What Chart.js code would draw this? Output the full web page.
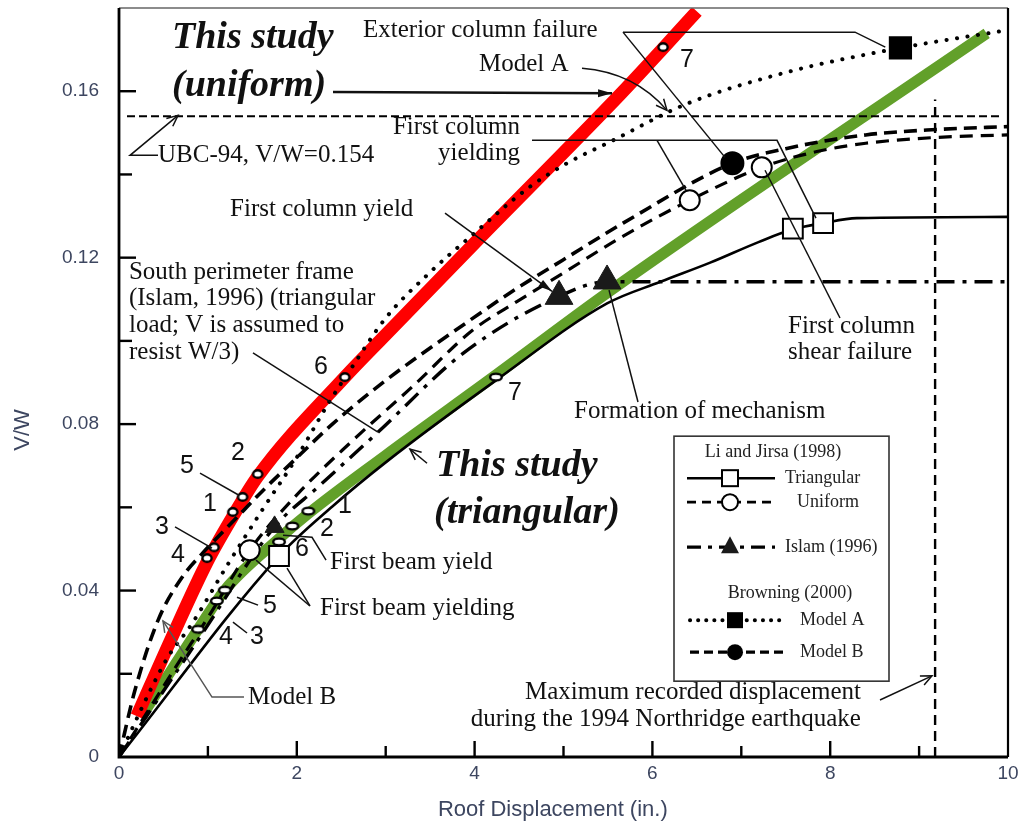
<!DOCTYPE html>
<html>
<head>
<meta charset="utf-8">
<script src="https://cdn.jsdelivr.net/npm/chart.js@4/dist/chart.umd.min.js"></script>
<style>
  html, body { margin: 0; padding: 0; background: #fff; }
  #c { display: block; }
</style>
</head>
<body>
<canvas id="c" width="1023" height="825"></canvas>
<script>
// ---------------------------------------------------------------
// Pushover curves: roof displacement (in.) against base shear V/W
// ---------------------------------------------------------------

// This study, uniform load pattern
const studyUniformX = [0.20, 0.60, 0.99, 1.28, 1.56, 2.54, 3.00, 4.00, 5.65, 6.12, 6.50];
const studyUniformY = [0.0098, 0.0290, 0.0468, 0.0578, 0.0674, 0.0913, 0.1015, 0.1235, 0.1595, 0.1703, 0.1792];
// analysis steps marked along the uniform curve
const studyUniformStepX = [0.99, 1.07, 1.28, 1.39, 1.56, 2.54, 6.12];
const studyUniformStepY = [0.0478, 0.0504, 0.0589, 0.0625, 0.0680, 0.0913, 0.1706];

// This study, triangular load pattern
const studyTriX = [0.25, 0.89, 1.19, 1.80, 2.13, 3.00, 4.24, 5.49, 9.76];
const studyTriY = [0.0096, 0.0307, 0.0401, 0.0525, 0.0585, 0.0725, 0.0918, 0.1115, 0.1739];
const studyTriStepX = [0.89, 1.10, 1.19, 1.80, 1.95, 2.13, 4.24];
const studyTriStepY = [0.0307, 0.0375, 0.0401, 0.0517, 0.0555, 0.0591, 0.0913];

// Li and Jirsa (1998), triangular
const liTriX = [0, 1.80, 2.40, 3.00, 4.24, 5.49, 6.09, 6.65, 7.20, 7.58, 7.92, 8.30, 10.0];
const liTriY = [0, 0.0483, 0.0602, 0.0708, 0.0905, 0.1090, 0.1142, 0.1188, 0.1238, 0.1268, 0.1283, 0.1295, 0.1298];
const liTriEventX = [1.80, 7.58, 7.92];
const liTriEventY = [0.0483, 0.1270, 0.1283];

// Li and Jirsa (1998), uniform
const liUniX = [0, 0.65, 1.00, 1.47, 2.00, 2.60, 3.30, 3.98, 4.48, 4.99, 5.64, 6.42, 7.23, 7.85, 8.40, 9.20, 10.0];
const liUniY = [0, 0.0220, 0.0335, 0.0497, 0.0630, 0.0755, 0.0890, 0.1026, 0.1095, 0.1162, 0.1248, 0.1338, 0.1417, 0.1455, 0.1475, 0.1489, 0.1495];
const liUniEventX = [1.47, 6.42, 7.23];
const liUniEventY = [0.0497, 0.1338, 0.1417];

// Islam (1996), south perimeter frame
const islamX = [0, 0.90, 1.75, 2.24, 2.91, 3.87, 4.95, 5.49, 5.90, 10.0];
const islamY = [0, 0.0285, 0.0553, 0.0649, 0.0780, 0.0970, 0.1107, 0.1142, 0.1142, 0.1142];
const islamEventX = [1.75, 4.95, 5.49];
const islamEventY = [0.0553, 0.1107, 0.1144];

// Browning (2000), Model A
const modelAX = [0, 0.37, 0.55, 0.82, 1.23, 1.60, 2.00, 2.37, 2.60, 3.00, 3.50, 3.95, 4.62, 5.04, 5.52, 6.39, 7.50, 8.79, 10.0];
const modelAY = [0, 0.0168, 0.0240, 0.0320, 0.0465, 0.0590, 0.0720, 0.0855, 0.0930, 0.1055, 0.1165, 0.1250, 0.1370, 0.1427, 0.1478, 0.1570, 0.1645, 0.1704, 0.1747];
const modelAEventX = [8.79];
const modelAEventY = [0.1704];

// Browning (2000), Model B
const modelBX = [0, 0.18, 0.44, 0.71, 0.94, 1.30, 1.64, 1.98, 2.40, 3.00, 3.95, 4.43, 4.99, 5.67, 6.90, 7.50, 8.40, 9.20, 10.0];
const modelBY = [0, 0.0161, 0.0329, 0.0432, 0.0490, 0.0570, 0.0645, 0.0715, 0.0800, 0.0905, 0.1050, 0.1120, 0.1194, 0.1283, 0.1427, 0.1462, 0.1495, 0.1508, 0.1515];
const modelBEventX = [6.90];
const modelBEventY = [0.1427];

// UBC-94 design base shear
const ubcX = [0.09, 9.94];
const ubcY = [0.154, 0.154];

// Maximum recorded roof displacement, 1994 Northridge earthquake
const northridgeX = [9.18, 9.18];
const northridgeY = [0, 0.158];

// Axis ticks
const xTickValues = [0, 2, 4, 6, 8, 10];
const yTickValues = [0, 0.04, 0.08, 0.12, 0.16];

// ---------------------------------------------------------------
const SERIF = '"Liberation Serif", "Times New Roman", serif';
const SANS = '"Liberation Sans", Arial, sans-serif';
const TICK_COLOR = '#3d4660';
const INK = '#111111';

const pts = (xs, ys) => xs.map((x, i) => ({ x: x, y: ys[i] }));

function ellipseMarker(rx, ry, lw) {
  const c = document.createElement('canvas');
  c.width = Math.ceil(2 * rx + lw + 2);
  c.height = Math.ceil(2 * ry + lw + 2);
  const g = c.getContext('2d');
  g.beginPath();
  g.ellipse(c.width / 2, c.height / 2, rx, ry, 0, 0, Math.PI * 2);
  g.fillStyle = '#ffffff';
  g.fill();
  g.lineWidth = lw;
  g.strokeStyle = '#000000';
  g.stroke();
  return c;
}
const stepMarkRed = ellipseMarker(4.6, 3.8, 2.4);
const stepMarkGreen = ellipseMarker(5.8, 3.4, 2.4);

function curve(label, xs, ys, color, width, dash, order, extra) {
  return Object.assign({
    label: label,
    data: pts(xs, ys),
    showLine: true,
    borderColor: color,
    borderWidth: width,
    borderDash: dash,
    pointRadius: 0,
    fill: false,
    cubicInterpolationMode: 'monotone',
    order: order
  }, extra || {});
}

function markers(label, xs, ys, style, radius, fillColor, order, extra) {
  return Object.assign({
    label: label,
    data: pts(xs, ys),
    showLine: false,
    pointStyle: style,
    pointRadius: radius,
    pointBackgroundColor: fillColor,
    pointBorderColor: '#000000',
    pointBorderWidth: 2,
    order: order
  }, extra || {});
}

const datasets = [
  markers('This study (uniform) steps', studyUniformStepX, studyUniformStepY, stepMarkRed, 5, '#fff', 0),
  markers('This study (triangular) steps', studyTriStepX, studyTriStepY, stepMarkGreen, 5, '#fff', 0),
  markers('Li and Jirsa triangular events', liTriEventX, liTriEventY, 'rect', 14, '#ffffff', 1),
  markers('Li and Jirsa uniform events', liUniEventX, liUniEventY, 'circle', 10, '#ffffff', 1),
  markers('Islam events', islamEventX, islamEventY, 'triangle', [11, 16, 16], '#1a1a1a', 1, { pointBorderColor: '#1a1a1a', pointBorderWidth: 1 }),
  markers('Model A event', modelAEventX, modelAEventY, 'rect', 15, '#000000', 1),
  markers('Model B event', modelBEventX, modelBEventY, 'circle', 11, '#000000', 1),

  curve('Li and Jirsa (1998) triangular', liTriX, liTriY, '#000000', 2.6, [], 3),
  curve('Li and Jirsa (1998) uniform', liUniX, liUniY, '#000000', 3.2, [13, 8], 3),
  curve('Browning (2000) Model B', modelBX, modelBY, '#000000', 3.6, [13, 7], 3),
  curve('Islam (1996)', islamX, islamY, '#000000', 3.4, [18, 8, 4, 8], 3),
  curve('Browning (2000) Model A', modelAX, modelAY, '#000000', 4, [0.1, 10.5], 3, { borderCapStyle: 'round' }),
  curve('UBC-94', ubcX, ubcY, '#000000', 2, [8, 4], 4, { cubicInterpolationMode: 'default', tension: 0 }),
  curve('Max. recorded displacement', northridgeX, northridgeY, '#000000', 2.4, [10, 6], 4, { cubicInterpolationMode: 'default', tension: 0 }),

  curve('This study (uniform)', studyUniformX, studyUniformY, '#ff0000', 13, [], 10, { borderCapStyle: 'butt' }),
  curve('This study (triangular)', studyTriX, studyTriY, '#62a02a', 11, [], 11, { borderCapStyle: 'butt' })
];

// ---------------------------------------------------------------
// Callouts (placed in data units)
const F = '25px ' + SERIF;
const FBI = 'italic bold 38px ' + SERIF;
const FN = '25px ' + SANS;
const callouts = [
  { t: 'text', x: 0.596, y: 0.1727, s: 'This study', f: FBI },
  { t: 'text', x: 0.596, y: 0.1612, s: '(uniform)', f: FBI },
  { t: 'path', p: [[2.407, 0.1598], [5.546, 0.1595]], head: 'fill', w: 2.4 },

  { t: 'text', x: 2.745, y: 0.1747, s: 'Exterior column failure' },
  { t: 'path', p: [[5.669, 0.1742], [8.279, 0.1742], [8.62, 0.1706]] },
  { t: 'path', p: [[5.669, 0.1742], [6.817, 0.1441]] },

  { t: 'text', x: 4.049, y: 0.1665, s: 'Model A' },
  { t: 'quad', p: [[5.208, 0.1655], [5.80, 0.1645], [6.164, 0.1554]], head: 'open' },

  { t: 'text', x: 4.511, y: 0.1514, s: 'First column', a: 'right' },
  { t: 'text', x: 4.511, y: 0.1451, s: 'yielding', a: 'right' },
  { t: 'path', p: [[4.646, 0.1482], [7.402, 0.1482], [7.84, 0.1295]] },
  { t: 'path', p: [[6.052, 0.1482], [6.378, 0.1362]] },

  { t: 'text', x: 7.525, y: 0.1035, s: 'First column' },
  { t: 'text', x: 7.525, y: 0.0973, s: 'shear failure' },
  { t: 'path', p: [[7.267, 0.1410], [8.110, 0.1055]] },

  { t: 'text', x: 0.439, y: 0.1446, s: 'UBC-94, V/W=0.154' },
  { t: 'path', p: [[0.439, 0.1446], [0.124, 0.1446], [0.664, 0.1542]], head: 'open' },

  { t: 'text', x: 1.249, y: 0.1317, s: 'First column yield' },
  { t: 'path', p: [[3.667, 0.1307], [4.871, 0.1119]], head: 'fill' },

  { t: 'text', x: 0.112, y: 0.1165, s: 'South perimeter frame' },
  { t: 'text', x: 0.112, y: 0.1103, s: '(Islam, 1996) (triangular' },
  { t: 'text', x: 0.112, y: 0.1038, s: 'load; V is assumed to' },
  { t: 'text', x: 0.112, y: 0.0973, s: 'resist W/3)' },
  { t: 'path', p: [[1.507, 0.0971], [2.913, 0.0781]] },

  { t: 'text', x: 5.118, y: 0.0831, s: 'Formation of mechanism' },
  { t: 'path', p: [[5.838, 0.0853], [5.512, 0.1122]] },

  { t: 'text', x: 3.566, y: 0.0699, s: 'This study', f: FBI },
  { t: 'text', x: 3.543, y: 0.0586, s: '(triangular)', f: FBI },
  { t: 'path', p: [[3.465, 0.0706], [3.273, 0.0740]], head: 'open' },

  { t: 'text', x: 2.373, y: 0.0468, s: 'First beam yield' },
  { t: 'path', p: [[1.845, 0.0533], [2.171, 0.0528], [2.329, 0.0473]] },

  { t: 'text', x: 2.261, y: 0.0358, s: 'First beam yielding' },
  { t: 'path', p: [[2.148, 0.0363], [1.541, 0.0473]] },
  { t: 'path', p: [[2.148, 0.0363], [1.890, 0.0454]] },

  { t: 'text', x: 1.451, y: 0.0144, s: 'Model B' },
  { t: 'path', p: [[1.406, 0.0144], [1.046, 0.0144], [0.495, 0.0327]], head: 'open', c: '#555555' },

  { t: 'text', x: 8.346, y: 0.0156, s: 'Maximum recorded displacement', a: 'right' },
  { t: 'text', x: 8.346, y: 0.0091, s: 'during the 1994 Northridge earthquake', a: 'right' },
  { t: 'path', p: [[8.560, 0.0137], [9.145, 0.0195]], head: 'open' },

  // step numbers, uniform pattern
  { t: 'text', x: 6.389, y: 0.1674, s: '7', f: FN, a: 'center' },
  { t: 'text', x: 2.272, y: 0.0937, s: '6', f: FN, a: 'center' },
  { t: 'text', x: 1.339, y: 0.0730, s: '2', f: FN, a: 'center' },
  { t: 'text', x: 0.765, y: 0.0699, s: '5', f: FN, a: 'center' },
  { t: 'text', x: 1.024, y: 0.0608, s: '1', f: FN, a: 'center' },
  { t: 'text', x: 0.484, y: 0.0553, s: '3', f: FN, a: 'center' },
  { t: 'text', x: 0.664, y: 0.0485, s: '4', f: FN, a: 'center' },
  { t: 'path', p: [[0.911, 0.0682], [1.350, 0.0629]] },
  { t: 'path', p: [[0.630, 0.0553], [1.046, 0.0502]] },

  // step numbers, triangular pattern
  { t: 'text', x: 4.454, y: 0.0874, s: '7', f: FN, a: 'center' },
  { t: 'text', x: 2.542, y: 0.0603, s: '1', f: FN, a: 'center' },
  { t: 'text', x: 2.340, y: 0.0548, s: '2', f: FN, a: 'center' },
  { t: 'text', x: 2.058, y: 0.0500, s: '6', f: FN, a: 'center' },
  { t: 'text', x: 1.699, y: 0.0363, s: '5', f: FN, a: 'center' },
  { t: 'text', x: 1.204, y: 0.0288, s: '4', f: FN, a: 'center' },
  { t: 'text', x: 1.552, y: 0.0288, s: '3', f: FN, a: 'center' },
  { t: 'path', p: [[1.327, 0.0384], [1.564, 0.0365]] },
  { t: 'path', p: [[1.282, 0.0324], [1.440, 0.0298]] }
];

// legend box anchor (top-left, data units)
const legendAnchor = { x: 6.243, y: 0.0771 };

// ---------------------------------------------------------------
function arrowHead(ctx, x1, y1, x2, y2, kind, len, wid) {
  const a = Math.atan2(y2 - y1, x2 - x1);
  const bx = x2 - len * Math.cos(a), by = y2 - len * Math.sin(a);
  const ox = wid * Math.sin(a), oy = -wid * Math.cos(a);
  ctx.beginPath();
  ctx.moveTo(bx + ox, by + oy);
  ctx.lineTo(x2, y2);
  ctx.lineTo(bx - ox, by - oy);
  if (kind === 'fill') { ctx.closePath(); ctx.fill(); } else { ctx.stroke(); }
}

function drawCallouts(chart) {
  const ctx = chart.ctx, sx = chart.scales.x, sy = chart.scales.y;
  const P = (p) => [sx.getPixelForValue(p[0]), sy.getPixelForValue(p[1])];
  callouts.forEach(o => {
    ctx.save();
    const col = o.c || INK;
    ctx.strokeStyle = col; ctx.fillStyle = col;
    ctx.lineWidth = o.w || 1.5;
    ctx.setLineDash([]);
    if (o.t === 'text') {
      ctx.font = o.f || F;
      ctx.textAlign = o.a || 'left';
      ctx.textBaseline = 'middle';
      const q = P([o.x, o.y]);
      ctx.fillText(o.s, q[0], q[1]);
    } else if (o.t === 'path') {
      const q = o.p.map(P);
      ctx.beginPath();
      ctx.moveTo(q[0][0], q[0][1]);
      for (let i = 1; i < q.length; i++) ctx.lineTo(q[i][0], q[i][1]);
      ctx.stroke();
      if (o.head) {
        const n = q.length;
        arrowHead(ctx, q[n - 2][0], q[n - 2][1], q[n - 1][0], q[n - 1][1], o.head, o.head === 'fill' ? 14 : 11, o.head === 'fill' ? 4 : 5);
      }
    } else if (o.t === 'quad') {
      const q = o.p.map(P);
      ctx.beginPath();
      ctx.moveTo(q[0][0], q[0][1]);
      ctx.quadraticCurveTo(q[1][0], q[1][1], q[2][0], q[2][1]);
      ctx.stroke();
      arrowHead(ctx, q[1][0], q[1][1], q[2][0], q[2][1], o.head, 11, 5);
    }
    ctx.restore();
  });
}

function drawFrame(chart) {
  const ctx = chart.ctx, a = chart.chartArea, sx = chart.scales.x, sy = chart.scales.y;
  ctx.save();
  ctx.setLineDash([]);
  ctx.strokeStyle = '#000';
  // inward tick marks
  ctx.lineWidth = 2.4;
  sx.ticks.forEach(t => {
    if (t.value <= 0 || t.value >= 10) return;
    const major = xTickValues.indexOf(t.value) >= 0;
    const x = sx.getPixelForValue(t.value);
    ctx.beginPath(); ctx.moveTo(x, a.bottom); ctx.lineTo(x, a.bottom - (major ? 16 : 11)); ctx.stroke();
  });
  sy.ticks.forEach(t => {
    if (t.value <= 0 || t.value >= 0.179) return;
    const major = yTickValues.some(v => Math.abs(v - t.value) < 1e-6);
    const y = sy.getPixelForValue(t.value);
    ctx.beginPath(); ctx.moveTo(a.left, y); ctx.lineTo(a.left + (major ? 17 : 13), y); ctx.stroke();
  });
  // box
  ctx.strokeStyle = '#666'; ctx.lineWidth = 1.6;
  ctx.beginPath(); ctx.moveTo(a.left, a.top); ctx.lineTo(a.right, a.top); ctx.stroke();
  ctx.strokeStyle = '#000'; ctx.lineWidth = 2.2;
  ctx.beginPath(); ctx.moveTo(a.right, a.top); ctx.lineTo(a.right, a.bottom); ctx.stroke();
  ctx.lineWidth = 2.8;
  ctx.beginPath(); ctx.moveTo(a.left, a.top); ctx.lineTo(a.left, a.bottom); ctx.lineTo(a.right, a.bottom); ctx.stroke();
  // axis titles
  ctx.fillStyle = TICK_COLOR;
  ctx.font = '22px ' + SANS;
  ctx.textAlign = 'center'; ctx.textBaseline = 'middle';
  ctx.fillText('Roof Displacement (in.)', sx.getPixelForValue(4.88), a.bottom + 53);
  ctx.save();
  ctx.translate(a.left - 96, sy.getPixelForValue(0.0786));
  ctx.rotate(-Math.PI / 2);
  ctx.fillText('V/W', 0, 0);
  ctx.restore();
  ctx.restore();
}

function drawLegend(chart) {
  const ctx = chart.ctx;
  const x0 = chart.scales.x.getPixelForValue(legendAnchor.x);
  const y0 = chart.scales.y.getPixelForValue(legendAnchor.y);
  const W = 215, H = 245;
  ctx.save();
  ctx.fillStyle = '#fff';
  ctx.fillRect(x0, y0, W, H);
  ctx.strokeStyle = '#333'; ctx.lineWidth = 1.6; ctx.setLineDash([]);
  ctx.strokeRect(x0, y0, W, H);

  const LF = '18px ' + SERIF;
  ctx.font = LF; ctx.fillStyle = '#222'; ctx.textBaseline = 'middle';
  ctx.textAlign = 'center';
  ctx.fillText('Li and Jirsa (1998)', x0 + 99, y0 + 16);
  ctx.fillText('Browning (2000)', x0 + 116, y0 + 157);

  function seg(y, xa, xb, dash, w, cap) {
    ctx.save();
    ctx.strokeStyle = '#000'; ctx.lineWidth = w; ctx.setLineDash(dash); ctx.lineCap = cap || 'butt';
    ctx.beginPath(); ctx.moveTo(x0 + xa, y0 + y); ctx.lineTo(x0 + xb, y0 + y); ctx.stroke();
    ctx.restore();
  }
  ctx.textAlign = 'left';
  // Triangular
  seg(42, 13, 101, [], 2.6);
  ctx.fillStyle = '#fff'; ctx.strokeStyle = '#000'; ctx.lineWidth = 2;
  ctx.fillRect(x0 + 48, y0 + 34, 16, 16); ctx.strokeRect(x0 + 48, y0 + 34, 16, 16);
  ctx.fillStyle = '#222'; ctx.fillText('Triangular', x0 + 111, y0 + 42);
  // Uniform
  seg(66, 13, 101, [9, 6], 2.8);
  ctx.beginPath(); ctx.arc(x0 + 56, y0 + 66, 8, 0, Math.PI * 2);
  ctx.fillStyle = '#fff'; ctx.fill(); ctx.stroke();
  ctx.fillStyle = '#222'; ctx.fillText('Uniform', x0 + 123, y0 + 66);
  // Islam
  seg(111, 13, 101, [14, 7, 4, 7], 3.2);
  ctx.fillStyle = '#1a1a1a';
  ctx.beginPath(); ctx.moveTo(x0 + 56, y0 + 100); ctx.lineTo(x0 + 65, y0 + 117); ctx.lineTo(x0 + 47, y0 + 117); ctx.closePath(); ctx.fill();
  ctx.fillStyle = '#222'; ctx.fillText('Islam (1996)', x0 + 111, y0 + 111);
  // Model A
  seg(184, 16, 111, [0.1, 8], 4, 'round');
  ctx.fillStyle = '#000'; ctx.fillRect(x0 + 53, y0 + 176, 16, 16);
  ctx.fillStyle = '#222'; ctx.fillText('Model A', x0 + 126, y0 + 184);
  // Model B
  seg(216, 16, 114, [9, 5], 3.2);
  ctx.fillStyle = '#000'; ctx.beginPath(); ctx.arc(x0 + 61, y0 + 216, 8, 0, Math.PI * 2); ctx.fill();
  ctx.fillStyle = '#222'; ctx.fillText('Model B', x0 + 126, y0 + 216);
  ctx.restore();
}

const decorations = {
  id: 'decorations',
  beforeDraw(chart) {
    const ctx = chart.ctx;
    ctx.save(); ctx.fillStyle = '#fff'; ctx.fillRect(0, 0, chart.width, chart.height); ctx.restore();
  },
  afterDatasetsDraw(chart) {
    drawFrame(chart);
    drawCallouts(chart);
    drawLegend(chart);
  }
};

new Chart(document.getElementById('c'), {
  type: 'scatter',
  data: { datasets: datasets },
  options: {
    responsive: false,
    animation: false,
    devicePixelRatio: 1,
    events: [],
    layout: { autoPadding: false, padding: { top: 8, right: 15, left: 0, bottom: 0 } },
    plugins: { legend: { display: false }, tooltip: { enabled: false } },
    scales: {
      x: {
        type: 'linear', min: 0, max: 10,
        afterFit(s) { s.height = 68; s.paddingLeft = 0; s.paddingRight = 0; },
        border: { display: false },
        grid: { display: false, drawTicks: false },
        ticks: {
          stepSize: 1, autoSkip: false, maxRotation: 0, padding: 5,
          color: TICK_COLOR, font: { family: SANS, size: 19 },
          callback: (v) => xTickValues.indexOf(v) >= 0 ? String(v) : ''
        }
      },
      y: {
        type: 'linear', min: 0, max: 0.18,
        afterFit(s) { s.width = 119; s.paddingTop = 0; s.paddingBottom = 0; },
        border: { display: false },
        grid: { display: false, drawTicks: false },
        ticks: {
          stepSize: 0.02, autoSkip: false, padding: 20,
          color: TICK_COLOR, font: { family: SANS, size: 19 },
          callback: (v) => {
            const hit = yTickValues.find(t => Math.abs(t - v) < 1e-6);
            return hit === undefined ? '' : (hit === 0 ? '0' : hit.toFixed(2));
          }
        }
      }
    }
  },
  plugins: [decorations]
});
</script>
</body>
</html>
